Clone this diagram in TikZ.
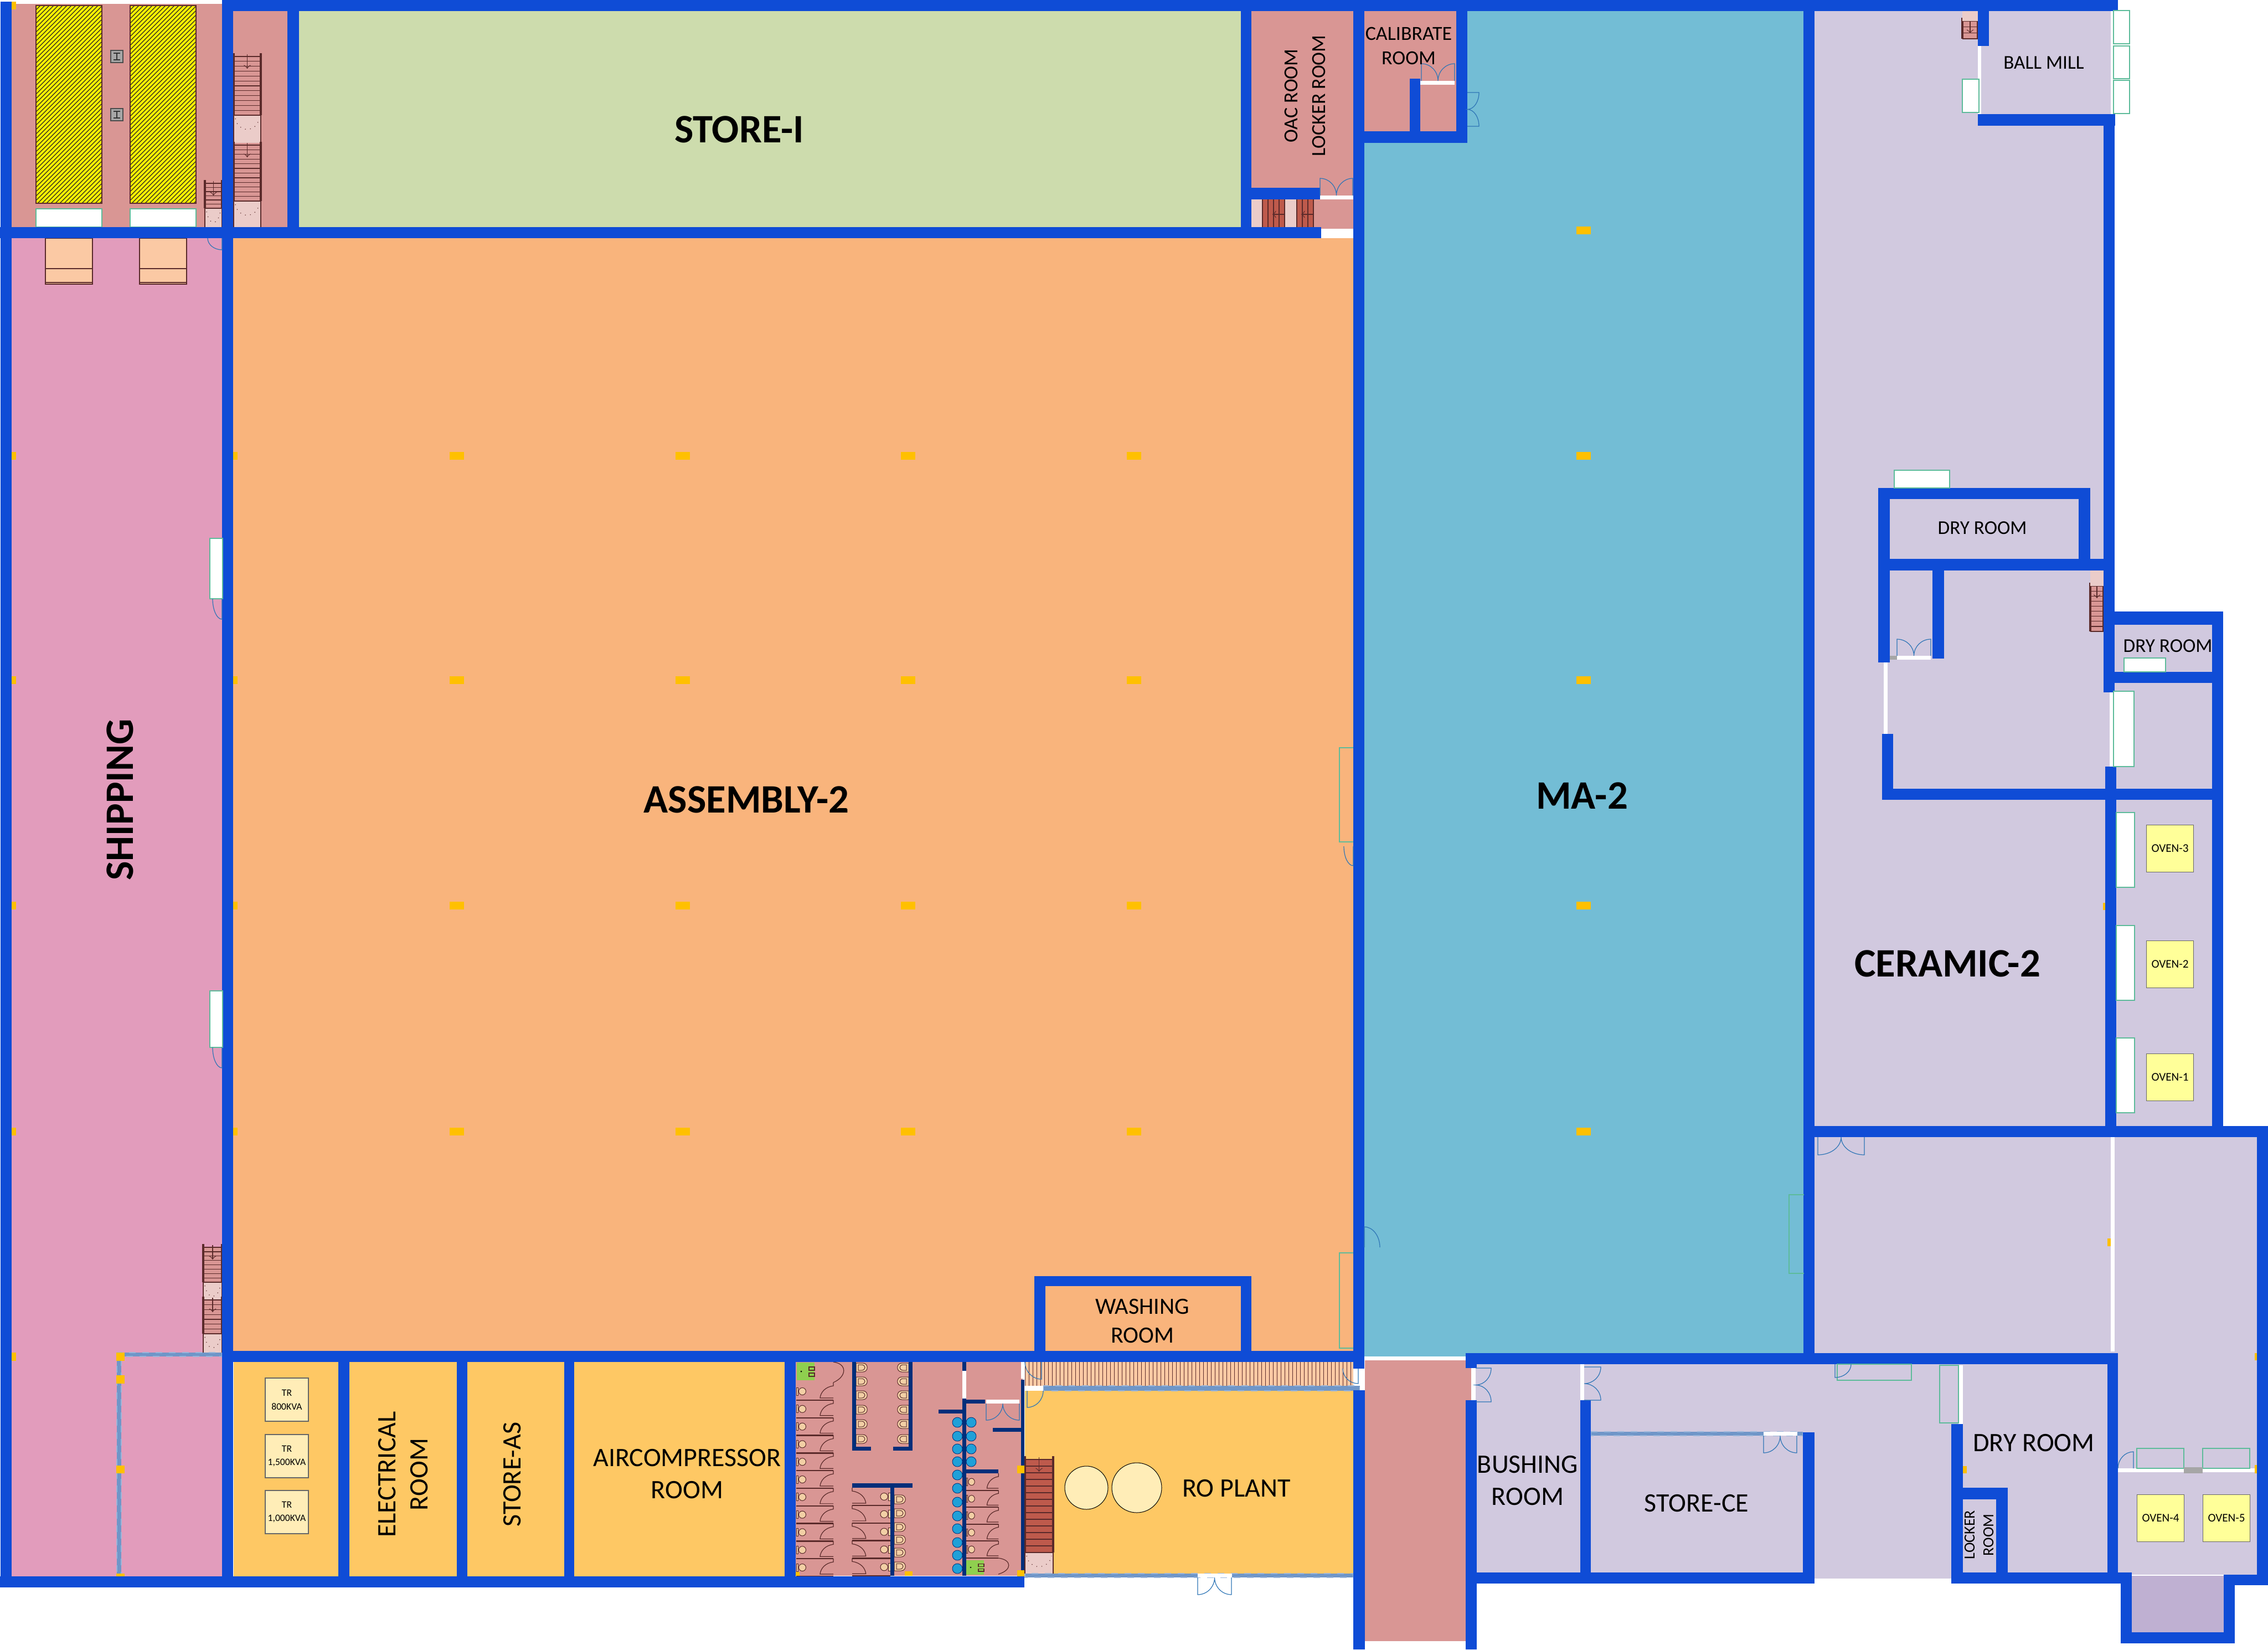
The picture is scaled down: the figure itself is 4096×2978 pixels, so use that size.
\documentclass[tikz,border=0pt]{standalone}
\usepackage{fontspec}
\setmainfont{Carlito}
\definecolor{wallblue}{HTML}{0F4CD6}
\definecolor{navywall}{HTML}{002E7A}
\definecolor{toppink}{HTML}{D99694}
\definecolor{storegreen}{HTML}{CDDCAD}
\definecolor{asmorange}{HTML}{F9B47C}
\definecolor{mablue}{HTML}{73BDD5}
\definecolor{lavroom}{HTML}{D1C9DF}
\definecolor{shippink}{HTML}{E29CBC}
\definecolor{amberroom}{HTML}{FEC864}
\definecolor{ovenyellow}{HTML}{FFFF99}
\definecolor{trcream}{HTML}{FFEDB7}
\definecolor{dockpeach}{HTML}{FBC9A4}
\definecolor{landingpink}{HTML}{EBCCC9}
\definecolor{stairred}{HTML}{BE5A4C}
\definecolor{bumplav}{HTML}{BFB0D2}
\definecolor{partblue}{HTML}{6F96C8}
\definecolor{dabyellow}{HTML}{FFC000}
\definecolor{wndgreen}{HTML}{5DBB9A}
\definecolor{doorblue}{HTML}{2E75B6}
\definecolor{sinkblue}{HTML}{1FA0D8}
\definecolor{fixtan}{HTML}{F2CFA5}
\definecolor{sinkgreen}{HTML}{8FCF4F}
\definecolor{darkline}{HTML}{5A2A2A}
\tikzset{
	x=0.25pt,y=-0.25pt,
	wnd/.style={fill=white,draw=wndgreen,line width=0.3pt},
	door/.style={draw=doorblue,line width=0.3pt},
	partition/.style={fill=partblue,draw=partblue!70!white,dashed,line width=0.3pt},
	tread/.style={draw=darkline,line width=0.3pt},
	fixture/.style={fill=fixtan,draw=darkline,line width=0.25pt},
	lbl/.style 2 args={font=\fontsize{#1}{#2}\selectfont,align=center,inner sep=0pt,text=black},
	bigname/.style={font=\fontsize{18.2}{20}\selectfont\bfseries,inner sep=0pt,text=black},
	ovenbox/.style={rectangle,draw=black!60,fill=ovenyellow,line width=0.3pt,inner sep=0pt,minimum width=21.3pt,minimum height=21.3pt,font=\fontsize{5.3}{6}\selectfont},
	trbox/.style={rectangle,draw=black!60,fill=trcream,line width=0.3pt,inner sep=0pt,minimum width=19.5pt,minimum height=19.5pt,align=center,font=\fontsize{4.4}{6.2}\selectfont},
	dbldoor/.pic={\draw[door] (0,0) -- (0,1) .. controls (.28,1) and (.5,.55) .. (.5,0) .. controls (.5,.55) and (.72,1) .. (1,1) -- (1,0);},
	dbldoorv/.pic={\draw[door] (0,0) -- (1,0) .. controls (1,.28) and (.55,.5) .. (0,.5) .. controls (.55,.5) and (1,.72) .. (1,1) -- (0,1);},
	leaf/.pic={\draw[door] (0,0) -- (0,1) .. controls (.55,1) and (1,.55) .. (1,0);},
	stall/.pic={
		\draw[tread,line width=0.6pt] (0,32) -- (67,32);
		\draw[tread] (67,0) -- (67,6) .. controls (52,8) and (44,18) .. (43,28) -- (67,28);
		\draw[fixture] (11,16) circle (6.5);
		\draw[fixture] (0,9) rectangle (3,23);
	},
	urinal/.pic={
		\draw[fixture] (0,-8) -- (12,-8) .. controls (23,-8) and (23,8) .. (12,8) -- (0,8) -- cycle;
		\draw[fixture] (4,-5) -- (10,-5) .. controls (18,-5) and (18,5) .. (10,5) -- (4,5) -- cycle;
	},
	basin/.pic={
		\fill[sinkgreen] (0,0) rectangle (32,32);
		\fill[black] (8,16) circle (1.5);
		\draw[tread] (22,8) rectangle (32,14);
		\draw[tread] (22,19) rectangle (32,25);
	},
}
\newcommand{\flight}[6][toppink]{
	\fill[#1] (#2,#3) rectangle (#4,#5);
	\foreach \i in {0,...,#6} \draw[tread] (#2,{#3+\i*(#5-#3)/#6}) -- (#4,{#3+\i*(#5-#3)/#6});
	\draw[tread,line width=0.8pt] (#2,#3-6) -- (#2,#5);
	\draw[tread,line width=0.8pt] (#4,#3-6) -- (#4,#5);
	\draw[tread,->] ({(#2+#4)/2},#3-4) -- ({(#2+#4)/2},#3+22);
}
\newcommand{\landing}[4]{
	\fill[landingpink] (#1,#2) rectangle (#3,#4);
	\draw[tread] (#1,#4) -- (#1,#2) -- (#3,#2) -- (#3,#4);
	\draw[darkline,line width=0.3pt,dotted] (#1+3,#2+6) .. controls (#1+8,#2+32) and (#3-8,#2+32) .. (#3-3,#2+6);
}
\begin{document}
\begin{tikzpicture}
	\useasboundingbox (0,0) rectangle (4096,2978);
	\fill[toppink] (21,7) rectangle (401,410);
	\fill[dabyellow] (21,3) rectangle (29,17);
	\fill[toppink] (421,20) rectangle (519,410);
	\fill[storegreen] (540,20) rectangle (2241,410);
	\fill[toppink] (2260,20) rectangle (2444,413);
	\fill[mablue] (2464,20) rectangle (3257,2449);
	\fill[toppink] (2464,20) rectangle (2630,237);
	\fill[shippink] (21,430) rectangle (401,2846);
	\fill[asmorange] (421,430) rectangle (2444,2439);
	\fill[amberroom] (422,2459) rectangle (1418,2846);
	\fill[toppink] (1437,2459) rectangle (1847,2845);
	\fill[dockpeach] (1851,2459) rectangle (2444,2502);
	\fill[amberroom] (1851,2511) rectangle (2444,2842);
	\fill[toppink] (2465,2456) rectangle (2647,2963);
	\fill[toppink] (2647,2470) rectangle (2657,2528);
	\fill[lavroom] (3277,20) rectangle (3812,2443);
	\fill[lavroom] (3578,20) rectangle (3812,206);
	\fill[lavroom] (3819,1128) rectangle (3995,2033);
	\fill[lavroom] (3277,2053) rectangle (4076,2843);
	\fill[lavroom] (2665,2463) rectangle (3806,2839);
	\fill[lavroom] (3277,2463) rectangle (3524,2850);
	\fill[bumplav] (3850,2845) rectangle (4016,2947);
	% corridor slats
	\foreach \sx in {1851,1858,...,2444} \draw[darkline,line width=0.25pt] (\sx,2459) -- (\sx,2502);
	% hatched pits
	\foreach \hx in {65,235}{
		\begin{scope}
			\clip (\hx,10) rectangle (\hx+119,367);
			\fill[yellow] (\hx,10) rectangle (\hx+119,367);
			\foreach \d in {0,8,...,480} \draw[black!85,line width=0.3pt] ({\hx+\d-357},367) -- ({\hx+\d},10);
		\end{scope}
		\draw[darkline,line width=0.3pt] (\hx,10) rectangle (\hx+119,367);
		\draw[wnd] (\hx,377) rectangle (\hx+119,410);
	}
	\foreach \cy in {91,196}{
		\draw[black!70,fill=black!35,line width=0.4pt] (200,\cy) rectangle (222,\cy+22);
		\draw[black!80,line width=0.6pt] (205,\cy+5) -- (217,\cy+5) (211,\cy+5) -- (211,\cy+17) (205,\cy+17) -- (217,\cy+17);
	}
	\foreach \dx in {82,252}{
		\draw[darkline,fill=dockpeach,line width=0.3pt] (\dx,430) rectangle (\dx+85,513);
		\draw[darkline,line width=0.3pt] (\dx,485) -- (\dx+85,485);
		\draw[darkline,line width=0.5pt] (\dx,510) -- (\dx+85,510);
	}
	% stairs
	\flight{422}{102}{471}{208}{12}
	\landing{422}{208}{471}{258}
	\flight{422}{262}{471}{363}{12}
	\landing{422}{363}{471}{410}
	\flight{370}{331}{401}{376}{6}
	\landing{370}{376}{401}{410}
	\flight{367}{2252}{401}{2315}{8}
	\landing{367}{2315}{401}{2346}
	\flight{367}{2347}{401}{2408}{7}
	\landing{367}{2408}{401}{2442}
	\flight[stairred]{1851}{2635}{1902}{2803}{14}
	\landing{1851}{2803}{1902}{2842}
	\flight{3544}{38}{3572}{70}{3}
	\fill[landingpink] (3544,20) rectangle (3572,38);
	\flight{3775}{1058}{3799}{1140}{9}
	\fill[landingpink] (3775,1030) rectangle (3799,1058);
	\fill[landingpink] (2260,360) rectangle (2280,410);
	\fill[landingpink] (2319,360) rectangle (2342,410);
	\fill[stairred] (2280,360) rectangle (2319,410);
	\fill[stairred] (2342,360) rectangle (2373,410);
	\foreach \sx in {2280,2290,...,2320,2342,2352,...,2372} \draw[tread] (\sx,360) -- (\sx,410);
	\draw[tread,->] (2373,387) -- (2350,387);
	\draw[tread,->] (2319,387) -- (2298,387);
	% toilets
	\foreach \n in {0,...,10} \pic at (1438,{2496+\n*31.8}) {stall};
	\foreach \n in {0,...,4} \pic[xscale=-1.03] at (1608,{2686+\n*31.8}) {stall};
	\foreach \n in {0,...,4} \pic[xscale=.87,yscale=.96] at (1745,{2660+\n*30.5}) {stall};
	\foreach \uy in {2469,2494,2519,2545,2571,2598} {
		\pic at (1546,\uy) {urinal};
		\pic[xscale=-1] at (1641,\uy) {urinal};
	}
	\foreach \uy in {2707,2732,2757,2780,2803,2828} \pic at (1615,\uy) {urinal};
	\foreach \by in {2568,2593,2616,2639} \draw[fill=sinkblue,draw=navywall,line width=0.2pt] (1754,\by) circle (9);
	\foreach \by in {2568,2593,2616,2639,2663,2687,2712,2737,2760,2785,2808,2832} \draw[fill=sinkblue,draw=navywall,line width=0.2pt] (1729,\by) circle (9);
	\pic at (1439,2460) {basin};
	\pic[xscale=1,yscale=.8] at (1745,2817) {basin};
	\draw[tread] (1505,2459) .. controls (1530,2462) and (1530,2485) .. (1505,2496);
	\draw[tread] (1803,2813) .. controls (1828,2816) and (1828,2835) .. (1803,2842);
	\draw[fill=trcream,draw=black,line width=0.25pt] (1962,2686) circle (39);
	\draw[fill=trcream,draw=black,line width=0.25pt] (2053,2686) circle (45);
	% screens
	\draw[partition] (211,2442) rectangle (219,2846);
	\draw[partition] (211,2442) rectangle (401,2449);
	\draw[partition] (1884,2502) rectangle (2456,2511);
	\draw[partition] (1851,2841) rectangle (2444,2848);
	\draw[partition] (2873,2585) rectangle (3256,2592);
	% walls
	\foreach \xa/\ya/\xb/\yb in {1/3/21/2866,0/2846/1850/2866,0/410/2386/430,401/0/421/2866,401/0/3825/20,519/0/540/430,
		2241/0/2260/430,2260/339/2384/360,2444/0/2464/2471,2444/2510/2465/2978,2630/0/2650/258,2464/237/2650/258,2546/142/2565/237,
		3257/0/3277/2463,3572/0/3592/83,3572/206/3820/227,3799/227/3819/1250,3802/1384/3822/2053,3392/881/3775/901,3392/881/3413/1196,
		3754/881/3775/1030,3392/1009/3819/1030,3490/1030/3511/1189,3399/1325/3419/1444,3399/1424/4015/1444,3819/1104/4015/1128,
		3995/1104/4015/2053,3799/1213/4015/1233,3257/2033/4096/2053,4076/2033/4096/2862,421/2439/2444/2459,611/2459/631/2846,
		825/2459/844/2846,1019/2459/1037/2846,1417/2459/1437/2846,1868/2304/1888/2439,2241/2304/2260/2439,1868/2304/2260/2322,
		2647/2443/3825/2463,2647/2443/2667/2470,2647/2528/2667/2978,2854/2528/2873/2839,2647/2839/3277/2859,3256/2586/3277/2859,
		3524/2571/3545/2859,3524/2839/3830/2859,3545/2686/3626/2707,3605/2686/3626/2839,3806/2443/3825/2859,3830/2839/3850/2967,
		4016/2843/4036/2967,3830/2947/4036/2967,4016/2843/4096/2862}
		\fill[wallblue] (\xa,\ya) rectangle (\xb,\yb);
	\foreach \xa/\ya/\xb/\yb in {1738/2459/1745/2475,1738/2525/1745/2845,1745/2527/1779/2534,1695/2545/1738/2552,1844/2491/1850/2842,
		1793/2578/1845/2585,1745/2653/1803/2660,1539/2459/1546/2619,1641/2459/1648/2619,1539/2612/1573/2619,1613/2612/1648/2619,
		1539/2678/1648/2686,1608/2686/1615/2845}
		\fill[navywall] (\xa,\ya) rectangle (\xb,\yb);
	% openings
	\foreach \xa/\ya/\xb/\yb in {2384/353/2444/360,2386/413/2441/421,2565/146/2627/153,3572/83/3578/206,3812/20/3816/206,3426/1184/3487/1191,
		3402/1196/3409/1325,3810/1250/3817/1384,3812/2053/3819/2440,1738/2475/1745/2525,1781/2527/1841/2534,1844/2459/1851/2489,1851/2502/1884/2511,
		2163/2841/2225/2848,3185/2585/3246/2592,2465/2449/2647/2456,2456/2471/2465/2510,2854/2463/2861/2528,2657/2470/2665/2528,3537/2465/3545/2571,3825/2651/4076/2658}
		\fill[white] (\xa,\ya) rectangle (\xb,\yb);
	% windows
	\foreach \xa/\ya/\xb/\yb in {3817/19/3846/79,3817/83/3846/142,3817/145/3846/205,3544/143/3574/203,3421/849/3521/881,3836/1188/3911/1213,
		3817/1248/3854/1384,3822/1467/3855/1602,3822/1671/3855/1806,3822/1874/3855/2009,379/972/402/1081,379/1789/402/1891}
		\draw[wnd] (\xa,\ya) rectangle (\xb,\yb);
	\foreach \xa/\ya/\xb/\yb in {3318/2463/3452/2492,3503/2465/3537/2569,3859/2615/3944/2651,3978/2615/4063/2651}
		\draw[draw=wndgreen,line width=0.3pt] (\xa,\ya) rectangle (\xb,\yb);
	\foreach \xa/\ya/\xb/\yb in {2419/1350/2444/1520,2419/2262/2444/2434,3231/2157/3258/2299}
		\draw[draw=wndgreen,line width=0.3pt] (\xb,\ya) -- (\xa,\ya) -- (\xa,\yb) -- (\xb,\yb);
	\fill[black!35] (3944,2649) rectangle (3978,2660);
	\fill[black!35] (3413,1184) rectangle (3426,1191);
	% doors
	\pic[xscale=60,yscale=-31] at (2567,146) {dbldoor};
	\pic[xscale=59,yscale=-31] at (2384,353) {dbldoor};
	\pic[xscale=21,yscale=61] at (2650,167) {dbldoorv};
	\pic[xscale=61,yscale=-30] at (3426,1184) {dbldoor};
	\pic[xscale=61,yscale=31] at (2163,2848) {dbldoor};
	\pic[xscale=60,yscale=30] at (1781,2534) {dbldoor};
	\pic[xscale=60,yscale=31] at (3185,2592) {dbldoor};
	\pic[xscale=28,yscale=61] at (2665,2470) {dbldoorv};
	\pic[xscale=30,yscale=60] at (2861,2468) {dbldoorv};
	\pic[xscale=84,yscale=32] at (3283,2053) {dbldoor};
	\pic[xscale=-30,yscale=31] at (1881,2459) {leaf};
	\pic[xscale=29,yscale=30] at (1855,2511) {leaf};
	\pic[xscale=-28,yscale=27] at (2453,2471) {leaf};
	\pic[xscale=-17,yscale=37] at (401,1081) {leaf};
	\pic[xscale=-17,yscale=37] at (401,1891) {leaf};
	\pic[xscale=-17,yscale=35] at (2444,1528) {leaf};
	\pic[xscale=28,yscale=-37] at (2464,2252) {leaf};
	\pic[xscale=-26,yscale=21] at (401,430) {leaf};
	\pic[xscale=29,yscale=24] at (3314,2463) {leaf};
	\pic[xscale=-28,yscale=-30] at (3853,2651) {leaf};
	% columns
	\foreach \cy in {823,1228,1635,2043}{
		\foreach \cx in {825,1233,1640,2048,2860} \fill[dabyellow] (\cx-13,\cy-7) rectangle (\cx+13,\cy+7);
		\fill[dabyellow] (21,\cy-7) rectangle (29,\cy+7);
		\fill[dabyellow] (421,\cy-7) rectangle (429,\cy+7);
	}
	\fill[dabyellow] (2847,409) rectangle (2873,423);
	\foreach \xa/\ya/\xb/\yb in {210/2442/225/2457,210/2483/225/2498,210/2646/225/2660,210/2841/225/2846,21/2442/29/2457,3798/1630/3802/1643,3806/2236/3812/2250,
		4072/2443/4076/2456,4072/2645/4076/2660,3545/2647/3552/2660,1837/2646/1850/2660,1837/2835/1850/2846,1634/2837/1648/2845,1437/2838/1444/2845}
		\fill[dabyellow] (\xa,\ya) rectangle (\xb,\yb);
	% rooms
	\node[bigname] (storeone) at (1335,234) {STORE-I};
	\node[bigname] (assembly) at (1348,1444) {ASSEMBLY-2};
	\node[bigname] (matwo) at (2857,1437) {MA-2};
	\node[bigname] (ceramic) at (3517,1740) {CERAMIC-2};
	\node[bigname,rotate=90] (shipping) at (217,1444) {SHIPPING};
	\node[lbl={9}{12.5},rotate=90] (oac) at (2357,173) {OAC ROOM\\LOCKER ROOM};
	\node[lbl={9}{10.8}] (calibrate) at (2544,83) {CALIBRATE\\ROOM};
	\node[lbl={8.8}{10}] (ballmill) at (3691,113) {BALL MILL};
	\node[lbl={8.8}{10}] (dryone) at (3580,953) {DRY ROOM};
	\node[lbl={8.8}{10}] (drytwo) at (3915,1166) {DRY ROOM};
	\node[lbl={10.5}{13}] (washing) at (2063,2385) {WASHING\\ROOM};
	\node[lbl={12}{14.3},rotate=90] (electrical) at (728,2662) {ELECTRICAL\\ROOM};
	\node[lbl={12}{14},rotate=90] (storeas) at (925,2662) {STORE-AS};
	\node[lbl={12}{14.3}] (aircomp) at (1241,2661) {AIRCOMPRESSOR\\ROOM};
	\node[lbl={12}{14}] (roplant) at (2233,2687) {RO PLANT};
	\node[lbl={12}{14.3}] (bushing) at (2759,2673) {BUSHING\\ROOM};
	\node[lbl={12}{14}] (storece) at (3064,2714) {STORE-CE};
	\node[lbl={12}{14}] (drythree) at (3673,2605) {DRY ROOM};
	\node[lbl={7}{8.5},rotate=90] (locker) at (3574,2771) {LOCKER\\ROOM};
	\node[trbox] (trone) at (518,2527) {TR\\800KVA};
	\node[trbox] (trtwo) at (518,2629) {TR\\1,500KVA};
	\node[trbox] (trthree) at (518,2730) {TR\\1,000KVA};
	\node[ovenbox] (oventhree) at (3919,1532) {OVEN-3};
	\node[ovenbox] (oventwo) at (3919,1741) {OVEN-2};
	\node[ovenbox] (ovenone) at (3919,1945) {OVEN-1};
	\node[ovenbox] (ovenfour) at (3902,2741) {OVEN-4};
	\node[ovenbox] (ovenfive) at (4021,2741) {OVEN-5};
\end{tikzpicture}
\end{document}
